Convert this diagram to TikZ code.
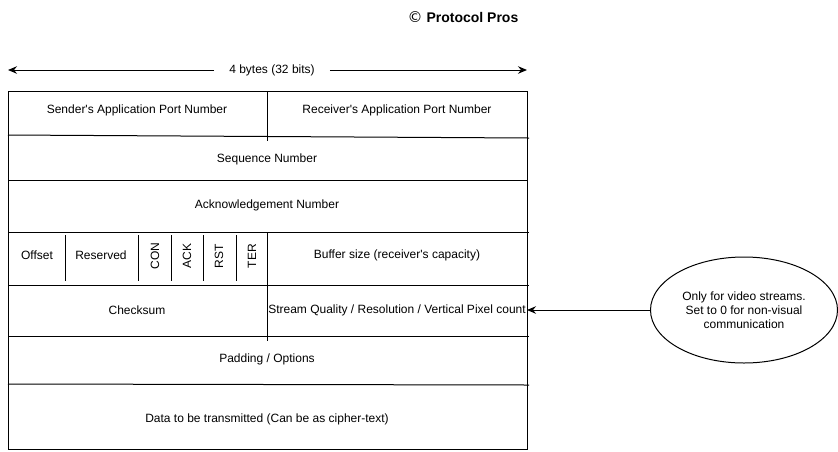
\documentclass[tikz,border=0pt]{standalone}
\usepackage{fontspec}
\setmainfont{Liberation Sans}
\newfontfamily\symfont{DejaVu Sans}
\usetikzlibrary{shapes.geometric,arrows.meta}
\begin{document}
\begin{tikzpicture}[x=1pt,y=-1pt,
  every node/.style={font=\fontsize{12}{14}\selectfont, inner sep=0pt},
  fld/.style={anchor=center},
  rule/.style={line width=1pt, draw=black},
  tip/.style={-{Stealth[length=9pt,width=7.5pt,inset=3pt]}, line width=1pt}]
\useasboundingbox (0,0) rectangle (838,451);
% title
\node (title) at (463,17) {\fontsize{14}{16}\selectfont {\symfont\fontsize{15}{16}\selectfont ©}\ \textbf{Protocol Pros}};
% width arrow
\coordinate (wl) at (8,70);
\coordinate (wr) at (527,70);
\node[inner xsep=15pt] (wlbl) at (272,70) {4 bytes (32 bits)};
\draw[tip] (wlbl.west) -- (wl);
\draw[tip] (wlbl.east) -- (wr);
% frame
\draw[rule] (8,91) rectangle (527,449);
\draw[rule] (8,135) -- (529,138);
\draw[rule] (8,180) -- (528,180);
\draw[rule] (8,232) -- (529,232);
\draw[rule] (8,285) -- (529,285);
\draw[rule] (8,336) -- (529,336);
\draw[rule] (8,384) -- (529,385);
\draw[rule] (267,91) -- (267,141);
\draw[rule] (267,232) -- (267,341);
\foreach \x in {65,138,171,203,236} \draw[rule] (\x,235) -- (\x,281);
% field labels
\node[fld] (sport) at (137,110) {Sender\textquotesingle s Application Port Number};
\node[fld] (rport) at (397,110) {Receiver\textquotesingle s Application Port Number};
\node[fld] (seq) at (267,159) {Sequence Number};
\node[fld] (ack) at (267,205) {Acknowledgement Number};
\node[fld] (off) at (37,255) {Offset};
\node[fld] (res) at (101,255) {Reserved};
\node[fld, rotate=90] (fcon) at (155,256) {CON};
\node[fld, rotate=90] (fack) at (187,256) {ACK};
\node[fld, rotate=90] (frst) at (219,256) {RST};
\node[fld, rotate=90] (fter) at (252,256) {TER};
\node[fld] (buf) at (397,255) {Buffer size (receiver\textquotesingle s capacity)};
\node[fld] (chk) at (137,310) {Checksum};
\node[fld] (sq) at (397,310) {Stream Quality / Resolution / Vertical Pixel count};
\node[fld] (pad) at (267,359) {Padding / Options};
\node[fld] (data) at (267,419) {Data to be transmitted (Can be as cipher-text)};
% note
\coordinate (sqend) at (527,310);
\node[ellipse, draw, line width=1pt, minimum width=187pt, minimum height=106pt, align=center] (note) at (744,310)
  {Only for video streams.\\ Set to 0 for non-visual\\communication};
\draw[tip] (note.west) -- (sqend);
\end{tikzpicture}
\end{document}
